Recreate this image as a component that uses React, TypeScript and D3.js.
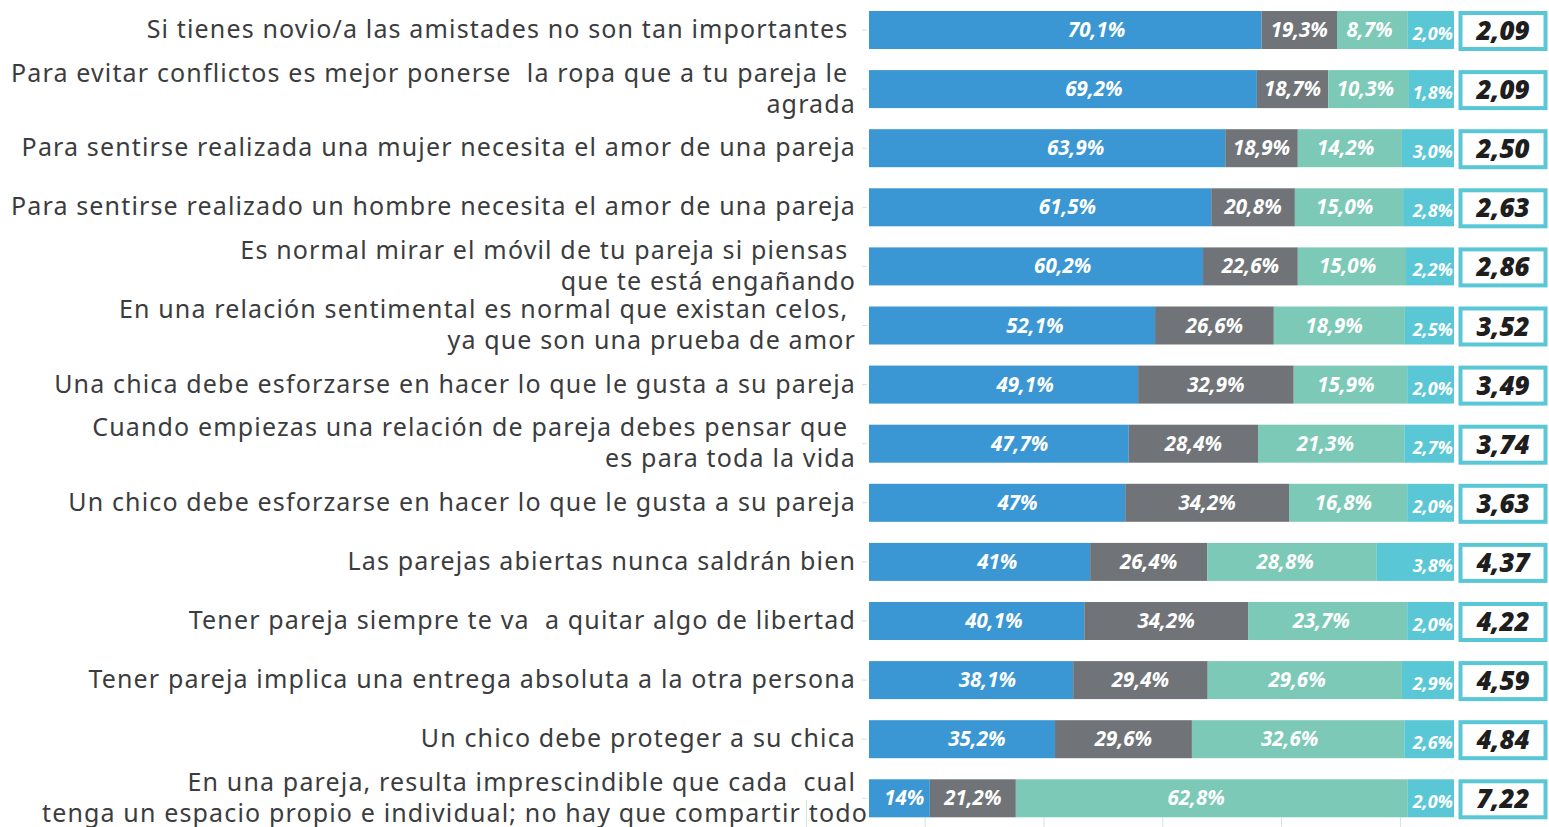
import React, { useEffect } from "react";
import * as d3 from "d3";

// Statements (each entry = lines of the wrapped label)
const categories: string[][] = [
  ["Si tienes novio/a las amistades no son tan importantes "],
  ["Para evitar conflictos es mejor ponerse  la ropa que a tu pareja le ", "agrada"],
  ["Para sentirse realizada una mujer necesita el amor de una pareja"],
  ["Para sentirse realizado un hombre necesita el amor de una pareja"],
  ["Es normal mirar el móvil de tu pareja si piensas ", "que te está engañando"],
  ["En una relación sentimental es normal que existan celos, ", "ya que son una prueba de amor"],
  ["Una chica debe esforzarse en hacer lo que le gusta a su pareja"],
  ["Cuando empiezas una relación de pareja debes pensar que ", "es para toda la vida"],
  ["Un chico debe esforzarse en hacer lo que le gusta a su pareja"],
  ["Las parejas abiertas nunca saldrán bien"],
  ["Tener pareja siempre te va  a quitar algo de libertad"],
  ["Tener pareja implica una entrega absoluta a la otra persona"],
  ["Un chico debe proteger a su chica"],
  ["En una pareja, resulta imprescindible que cada  cual", "tenga un espacio propio e individual; no hay que compartir todo"],
];

// Labelled percentages per answer group
const valuesBlue = [70.1, 69.2, 63.9, 61.5, 60.2, 52.1, 49.1, 47.7, 47, 41, 40.1, 38.1, 35.2, 14];
const valuesGray = [19.3, 18.7, 18.9, 20.8, 22.6, 26.6, 32.9, 28.4, 34.2, 26.4, 34.2, 29.4, 29.6, 21.2];
const valuesTeal = [8.7, 10.3, 14.2, 15.0, 15.0, 18.9, 15.9, 21.3, 16.8, 28.8, 23.7, 29.6, 32.6, 62.8];
const valuesCyan = [2.0, 1.8, 3.0, 2.8, 2.2, 2.5, 2.0, 2.7, 2.0, 3.8, 2.0, 2.9, 2.6, 2.0];

// Drawn segment lengths (share of the full bar, %)
const lengthBlue = [67.1, 66.3, 60.9, 58.5, 57.1, 48.9, 46.0, 44.4, 43.8, 37.8, 36.8, 34.9, 31.8, 10.4];
const lengthGray = [12.9, 12.2, 12.4, 14.3, 16.2, 20.3, 26.6, 22.1, 28.0, 20.0, 28.0, 23.0, 23.4, 14.7];
const lengthTeal = [12.1, 13.8, 17.8, 18.5, 18.5, 22.4, 19.4, 25.0, 20.2, 29.0, 27.2, 33.2, 36.3, 67.0];

// Mean scores
const scores = ["2,09", "2,09", "2,50", "2,63", "2,86", "3,52", "3,49", "3,74", "3,63", "4,37", "4,22", "4,59", "4,84", "7,22"];

// Background axis ticks (partially visible under the bars)
const gridTicks = [0, 1, 2, 3, 4, 5];

const W = 1549;
const H = 827;

const COLORS = {
  blue: "#3a97d3",
  gray: "#707478",
  teal: "#7bc9b6",
  cyan: "#59c7d5",
};

function fmt(v: number, keepDecimal: boolean) {
  if (!keepDecimal && Number.isInteger(v)) return `${v}%`;
  return `${v.toFixed(1).replace(".", ",")}%`;
}

export default function App() {
  useEffect(() => {
    document.body.style.margin = "0";
  }, []);

  const n = categories.length;
  const x = d3.scaleLinear().domain([0, 100]).range([869, 1454]);
  const y = d3
    .scaleBand<number>()
    .domain(d3.range(n))
    .range([0.45, 0.45 + n * 59.1])
    .paddingInner(0.357)
    .paddingOuter(0.1785);
  const bw = y.bandwidth();
  const gridX = d3.scaleLinear().domain([0, 5]).range([806.4, 1400.4]);

  const series = [
    { key: "blue", lengths: lengthBlue, values: valuesBlue, keep: false, pos: 0.58, color: COLORS.blue },
    { key: "gray", lengths: lengthGray, values: valuesGray, keep: false, pos: 0.5, color: COLORS.gray },
    { key: "teal", lengths: lengthTeal, values: valuesTeal, keep: true, pos: 0.46, color: COLORS.teal },
    {
      key: "cyan",
      lengths: lengthBlue.map((b, i) => 100 - b - lengthGray[i] - lengthTeal[i]),
      values: valuesCyan,
      keep: true,
      pos: 1,
      color: COLORS.cyan,
    },
  ];

  const rows = d3.range(n).map((i) => {
    let acc = 0;
    return series.map((s) => {
      const x0 = acc;
      acc += s.lengths[i];
      return { ...s, x0, x1: acc, v: s.values[i] };
    });
  });

  const lineH = 31;

  return (
    <svg width={W} height={H} style={{ display: "block", background: "#fff" }}>
      {/* background axis ticks */}
      {gridTicks.map((t) => (
        <line
          key={`g${t}`}
          x1={gridX(t)}
          x2={gridX(t)}
          y1={t === 0 ? 800 : (y(n - 1) ?? 0) + bw}
          y2={H}
          stroke="#cfe3e0"
          strokeWidth={1}
        />
      ))}

      {d3.range(n).map((i) => {
        const top = y(i) ?? 0;
        const cy = top + bw / 2;
        const lines = categories[i];
        return (
          <g key={i}>
            {/* small tick at the left of bar */}
            <line x1={862} x2={867} y1={cy} y2={cy} stroke="#cfe6e1" strokeWidth={1} />
            {/* category label */}
            <text
              textAnchor="end"
              fontFamily="'Noto Sans', 'Open Sans', sans-serif"
              fontSize={25}
              letterSpacing={1.15}
              fill="#3b3c3e"
              style={{ whiteSpace: "pre" }}
            >
              {lines.map((ln, k) => (
                <tspan
                  key={k}
                  x={i === n - 1 && k === 1 ? 868 : 856}
                  y={cy + (k - (lines.length - 1) / 2) * lineH + 8}
                >
                  {ln}
                </tspan>
              ))}
            </text>
            {/* segments */}
            {rows[i].map((seg) => (
              <rect
                key={seg.key}
                x={x(seg.x0)}
                y={top}
                width={x(seg.x1) - x(seg.x0)}
                height={bw}
                fill={seg.color}
              />
            ))}
            {rows[i].map((seg) => {
              const isLast = seg.key === "cyan";
              const tx = isLast ? x(seg.x1) - 1 : x(seg.x0) + (x(seg.x1) - x(seg.x0)) * seg.pos;
              return (
                <text
                  key={`t${seg.key}`}
                  x={tx}
                  y={cy + (isLast ? 10 : 7)}
                  textAnchor={isLast ? "end" : "middle"}
                  fontFamily="'Open Sans', 'Noto Sans', sans-serif"
                  fontStyle="italic"
                  fontWeight={700}
                  fontSize={isLast ? 18 : 20.5}
                  fill="#ffffff"
                >
                  {fmt(seg.v, seg.keep)}
                </text>
              );
            })}
            {/* score box */}
            <rect
              x={1460.5}
              y={top + 2}
              width={85}
              height={bw - 2}
              fill="#ffffff"
              stroke={COLORS.cyan}
              strokeWidth={4}
            />
            <text
              x={1503}
              y={cy + 10}
              textAnchor="middle"
              fontFamily="'Open Sans', 'Noto Sans', sans-serif"
              fontStyle="italic"
              fontWeight={800}
              fontSize={26}
              fill="#1e1e1e"
            >
              {scores[i]}
            </text>
          </g>
        );
      })}
    </svg>
  );
}
